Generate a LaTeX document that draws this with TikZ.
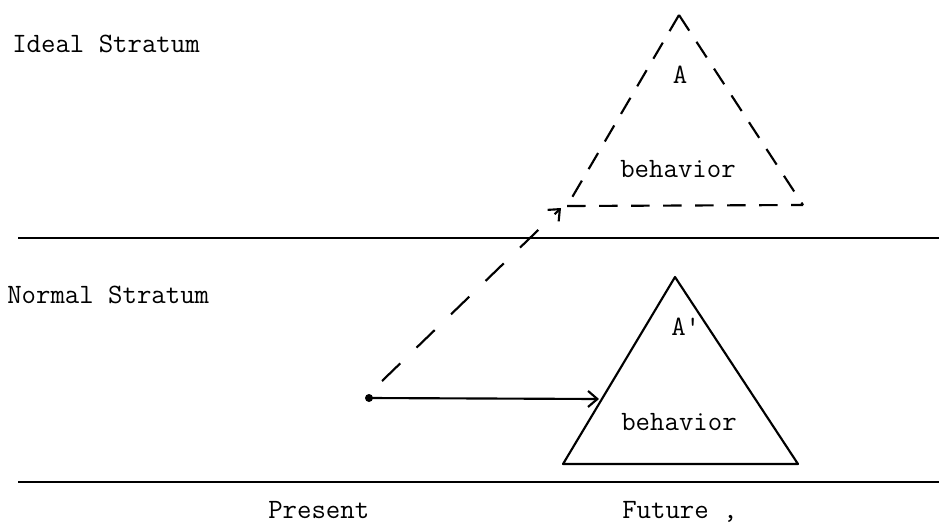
\documentclass[tikz,border=0pt]{standalone}
\usetikzlibrary{arrows.meta}
\begin{document}
\begin{tikzpicture}[x=0.75pt,y=-0.75pt,
  lbl/.style={font=\fontsize{21}{24}\selectfont\ttfamily,inner sep=0pt,anchor=base west},
  inlbl/.style={font=\fontsize{21}{24}\selectfont\ttfamily,inner sep=0pt,anchor=base},
  stratum/.style={line width=1.8pt},
  tri/.style={line width=1.6pt,line join=round},
  dtri/.style={line width=1.6pt,dash pattern=on 14pt off 10pt},
  darrow/.style={line width=1.6pt,dash pattern=on 19pt off 17pt,-{Straight Barb[length=7pt,width=12pt,line width=1.6pt]}},
  sarrow/.style={line width=1.6pt,-{Straight Barb[length=7pt,width=12pt,line width=1.6pt]}}]
\useasboundingbox (0,0) rectangle (939,526);
% strata lines
\coordinate (l1a) at (18,238); \coordinate (l1b) at (939,238);
\coordinate (l2a) at (18,482); \coordinate (l2b) at (939,482);
\draw[stratum] (l1a) -- (l1b);
\draw[stratum] (l2a) -- (l2b);
% labels
\node[lbl] (ideal) at (12,52) {Ideal Stratum};
\node[lbl] (normal) at (7,303) {Normal Stratum};
\node[lbl] (present) at (268,518) {Present};
\node[lbl] (future) at (622,518) {Future ,};
% dashed triangle
\coordinate (dA) at (679,15);
\coordinate (dL) at (567,206);
\coordinate (dR) at (803,205);
\draw[dtri] (dA) -- (dL);
\draw[dtri] (dA) -- (dR);
\draw[dtri] (dL) -- (dR);
\node[inlbl] (a1) at (680,83) {A};
\node[inlbl] (b1) at (678,177) {behavior};
% solid triangle
\coordinate (sA) at (675,277);
\coordinate (sL) at (563,464);
\coordinate (sR) at (798,464);
\draw[tri] (sA) -- (sL) -- (sR) -- cycle;
\node[lbl] (a2) at (671,335) {A'};
\node[inlbl] (b2) at (679,430) {behavior};
% arrows
\coordinate (dot) at (369,398);
\fill (dot) circle (4);
\coordinate (dstart) at (382,381);
\coordinate (dend) at (561,208);
\coordinate (hit) at (599,399);
\draw[darrow] (dstart) -- (dend);
\draw[sarrow] (dot) -- (hit);
\end{tikzpicture}
\end{document}
